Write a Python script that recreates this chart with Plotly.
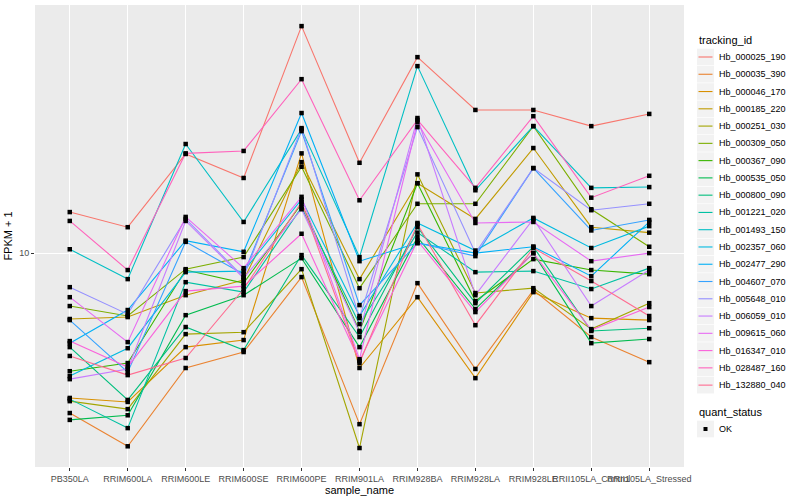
import plotly.graph_objects as go

samples = ["PB350LA", "RRIM600LA", "RRIM600LE", "RRIM600SE", "RRIM600PE", "RRIM901LA",
           "RRIM928BA", "RRIM928LA", "RRIM928LE", "RRII105LA_Control", "RRII105LA_Stressed"]

tracking_ids = ["Hb_000025_190", "Hb_000035_390", "Hb_000046_170", "Hb_000185_220",
                "Hb_000251_030", "Hb_000309_050", "Hb_000367_090", "Hb_000535_050",
                "Hb_000800_090", "Hb_001221_020", "Hb_001493_150", "Hb_002357_060",
                "Hb_002477_290", "Hb_004607_070", "Hb_005648_010", "Hb_006059_010",
                "Hb_009615_060", "Hb_016347_010", "Hb_028487_160", "Hb_132880_040"]

colors = ["#F8766D", "#EA8331", "#D89000", "#C09B00", "#A3A500", "#7CAE00", "#39B600",
          "#00BB4E", "#00BF7D", "#00C1A3", "#00BFC4", "#00BAE0", "#00B0F6", "#35A2FF",
          "#9590FF", "#C77CFF", "#E76BF3", "#FA62DB", "#FF62BC", "#FF6C91"]

# FPKM + 1 per sample (order of `samples`)
hb_000025_190 = [13.7, 12.2, 21.4, 17.8, 57.1, 20.0, 45.0, 30.0, 30.0, 26.5, 29.1]
hb_000035_390 = [2.93, 2.27, 4.14, 4.68, 8.32, 2.69, 7.94, 4.11, 7.53, 5.25, 4.33]
hb_000046_170 = [3.29, 3.19, 4.86, 5.13, 21.5, 4.14, 7.13, 3.83, 7.41, 6.07, 5.98]
hb_000185_220 = [6.03, 6.12, 7.24, 8.13, 20.1, 8.19, 17.1, 13.0, 22.4, 12.2, 11.7]
hb_000251_030 = [3.21, 3.02, 5.37, 5.45, 8.84, 2.24, 18.3, 7.36, 7.64, 5.58, 6.81]
hb_000309_050 = [6.66, 6.17, 8.84, 9.70, 19.4, 7.64, 14.6, 14.6, 26.5, 14.0, 10.5]
hb_000367_090 = [4.04, 4.30, 8.78, 7.94, 14.6, 5.50, 17.1, 6.92, 9.55, 8.78, 8.51]
hb_000535_050 = [2.78, 2.88, 6.21, 7.24, 9.62, 4.86, 11.3, 6.51, 10.0, 5.01, 5.17]
hb_000800_090 = [4.86, 3.24, 5.67, 4.75, 9.85, 5.25, 12.2, 6.81, 10.5, 5.50, 5.62]
hb_001221_020 = [3.26, 2.61, 8.00, 7.41, 14.2, 5.80, 11.7, 8.64, 8.71, 7.59, 8.91]
hb_001493_150 = [10.3, 8.19, 23.1, 12.7, 25.9, 9.70, 42.0, 16.2, 26.5, 16.5, 16.6]
hb_002357_060 = [3.89, 4.82, 8.64, 8.71, 15.1, 6.17, 12.6, 10.2, 13.1, 10.4, 12.3]
hb_002477_290 = [5.01, 6.46, 11.0, 10.1, 29.3, 9.40, 10.8, 10.0, 10.5, 8.38, 12.7]
hb_004607_070 = [5.98, 4.01, 10.9, 8.51, 25.5, 6.71, 10.8, 9.77, 19.2, 11.9, 12.9]
hb_005648_010 = [7.70, 6.26, 13.0, 8.32, 26.1, 6.07, 26.3, 10.0, 19.2, 13.9, 14.6]
hb_006059_010 = [3.80, 4.11, 12.8, 8.25, 14.0, 5.45, 28.2, 7.24, 13.0, 6.66, 8.78]
hb_009615_060 = [7.13, 5.05, 13.2, 8.91, 15.4, 4.43, 27.3, 12.6, 12.7, 9.40, 10.0]
hb_016347_010 = [5.09, 4.17, 7.47, 7.76, 11.6, 4.37, 11.0, 6.36, 10.0, 5.54, 6.61]
hb_028487_160 = [12.8, 8.78, 21.5, 21.9, 38.0, 15.0, 27.8, 16.5, 28.6, 15.3, 18.1]
hb_132880_040 = [4.54, 3.92, 4.47, 7.59, 14.8, 4.30, 12.5, 5.75, 10.4, 8.07, 6.17]

series = [hb_000025_190, hb_000035_390, hb_000046_170, hb_000185_220, hb_000251_030,
          hb_000309_050, hb_000367_090, hb_000535_050, hb_000800_090, hb_001221_020,
          hb_001493_150, hb_002357_060, hb_002477_290, hb_004607_070, hb_005648_010,
          hb_006059_010, hb_009615_060, hb_016347_010, hb_028487_160, hb_132880_040]

quant_status = ["OK"]

FONT = "Liberation Sans, Arial, sans-serif"

# panel geometry in pixels
W, H = 800, 500
PL, PR, PT, PB = 35, 684, 5, 467


def px(xp):
    return (xp - PL) / (PR - PL)


def py(yp):
    return (PB - yp) / (PB - PT)


fig = go.Figure()
for name, vals, col in zip(tracking_ids, series, colors):
    fig.add_trace(go.Scatter(x=samples, y=vals, mode="lines", name=name,
                             line=dict(color=col, width=1.1), showlegend=False,
                             hoverinfo="x+y+name"))

all_x = [s for vals in series for s in samples]
all_y = [v for vals in series for v in vals]
fig.add_trace(go.Scatter(x=all_x, y=all_y, mode="markers", name=quant_status[0],
                         marker=dict(symbol="square", size=4.5, color="black"),
                         showlegend=False))

shapes = []
annotations = []

# legend: tracking_id
annotations.append(dict(text="tracking_id", x=px(697), y=py(40), xref="paper", yref="paper",
                        xanchor="left", yanchor="middle", showarrow=False,
                        font=dict(size=11, color="black", family=FONT)))
step = 17.27
for i, (name, col) in enumerate(zip(tracking_ids, colors)):
    cy = 57 + i * step
    shapes.append(dict(type="rect", xref="paper", yref="paper",
                       x0=px(697), x1=px(714), y0=py(cy - 8.3), y1=py(cy + 8.3),
                       fillcolor="#F2F2F2", line=dict(width=0), layer="above"))
    shapes.append(dict(type="line", xref="paper", yref="paper",
                       x0=px(698.5), x1=px(712.5), y0=py(cy), y1=py(cy),
                       line=dict(color=col, width=1.1), layer="above"))
    annotations.append(dict(text=name, x=px(716.5), y=py(cy), xref="paper", yref="paper",
                            xanchor="left", yanchor="middle", showarrow=False,
                            font=dict(size=9, color="black", family=FONT)))

# legend: quant_status
annotations.append(dict(text="quant_status", x=px(697), y=py(412), xref="paper", yref="paper",
                        xanchor="left", yanchor="middle", showarrow=False,
                        font=dict(size=11, color="black", family=FONT)))
shapes.append(dict(type="rect", xref="paper", yref="paper",
                   x0=px(697), x1=px(714), y0=py(429 - 8.3), y1=py(429 + 8.3),
                   fillcolor="#F2F2F2", line=dict(width=0), layer="above"))
shapes.append(dict(type="rect", xref="paper", yref="paper",
                   x0=px(703.5), x1=px(707.5), y0=py(427), y1=py(431),
                   fillcolor="black", line=dict(width=0), layer="above"))
annotations.append(dict(text=quant_status[0], x=px(716.5), y=py(429), xref="paper", yref="paper",
                        xanchor="left", yanchor="middle", showarrow=False,
                        font=dict(size=9, color="black", family=FONT)))

fig.update_layout(
    width=W, height=H,
    margin=dict(l=PL, r=W - PR, t=PT, b=H - PB),
    paper_bgcolor="white", plot_bgcolor="#EBEBEB",
    font=dict(family=FONT, size=9, color="#4D4D4D"),
    showlegend=False,
    shapes=shapes, annotations=annotations,
    xaxis=dict(type="category", categoryorder="array", categoryarray=samples,
               range=[-0.6, 10.6], showgrid=True, gridcolor="white", gridwidth=1.1,
               zeroline=False, ticks="outside", ticklen=3, tickcolor="#333333",
               tickangle=0, tickfont=dict(size=9, color="#4D4D4D", family=FONT),
               title=dict(text="sample_name", font=dict(size=11, color="black", family=FONT),
                          standoff=3),
               showline=False, automargin=False),
    yaxis=dict(type="log", range=[0.287, 1.827], tickvals=[10], ticktext=["10"],
               showgrid=True, gridcolor="white", gridwidth=1.1, zeroline=False,
               ticks="outside", ticklen=3, tickcolor="#333333",
               tickfont=dict(size=9, color="#4D4D4D", family=FONT),
               title=dict(text="FPKM + 1", font=dict(size=11, color="black", family=FONT),
                          standoff=4),
               showline=False, automargin=False),
)

fig.write_html("out.html", config={"displayModeBar": False},
               post_script="document.body.style.margin='0';document.body.style.padding='0';")
